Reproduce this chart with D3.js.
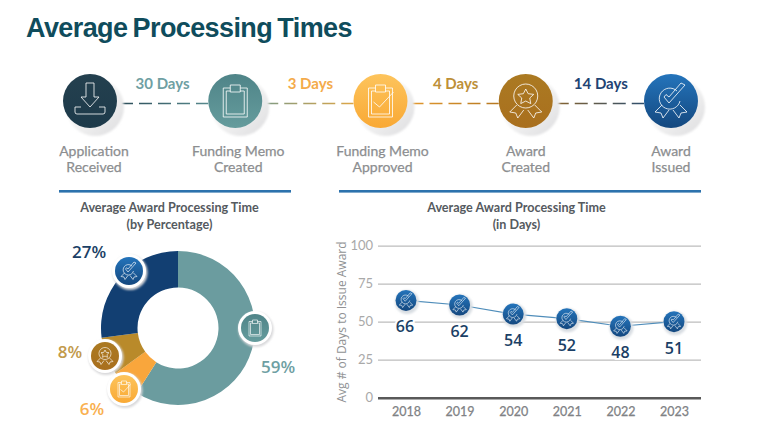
<!DOCTYPE html>
<html><head><meta charset="utf-8">
<script src="https://cdn.jsdelivr.net/npm/d3@7/dist/d3.min.js"></script>
<style>html,body{margin:0;padding:0;background:#fff}svg{display:block}text{font-family:Lato,sans-serif}</style>
</head><body><svg id="c" width="768" height="425"></svg>
<script>
const stepKeys = ["received","memo","approved","created","issued"];
const stepLabels = [["Application","Received"],["Funding Memo","Created"],["Funding Memo","Approved"],["Award","Created"],["Award","Issued"]];
const stepDays = ["30 Days","3 Days","4 Days","14 Days"];
const stepDayColors = ["#6f9fa3","#f4ab4b","#bd9038","#1f4474"];
const shareKeys = ["memo","approved","created","issued"];
const shareValues = [59,6,8,27];
const shareColors = ["#6b9c9f","#f9a63c","#b98a2a","#123f72"];
const years = ["2018","2019","2020","2021","2022","2023"];
const plottedDays = [64,61,55,52,47,50];
const labelDays = [66,62,54,52,48,51];
const yTicks = [0,25,50,75,100];

const svg = d3.select("#c");
const defs = svg.append("defs");
const grads = {
  received:["#24404f","#1d3a4a"], memo:["#4f8488","#659c9d"], approved:["#fdc45c","#f9a935"],
  created:["#ab7a22","#a96f1e"], issued:["#2474bb","#14487f"]
};
Object.entries(grads).forEach(([k,c])=>{
  const g=defs.append("linearGradient").attr("id","g-"+k).attr("x1",0).attr("y1",0).attr("x2",0).attr("y2",1);
  g.append("stop").attr("offset",0).attr("stop-color",c[0]);
  g.append("stop").attr("offset",1).attr("stop-color",c[1]);
});
const sh=defs.append("linearGradient").attr("id","shade").attr("x1",0).attr("y1",0).attr("x2",1).attr("y2",1);
sh.append("stop").attr("offset",.45).attr("stop-color","#f4f4f4");
sh.append("stop").attr("offset",1).attr("stop-color","#dcdcde");
const blur=defs.append("filter").attr("id","soft").attr("x","-30%").attr("y","-30%").attr("width","160%").attr("height","160%");
blur.append("feGaussianBlur").attr("stdDeviation",.8);

const clip="M-12,-13H-5M5,-13H12V16H-12V-13M-9,-10H-5M5,-10H9V13H-9V-10M-5,-16H5V-9H-5Z";
const ribbons="M-9,4L-16,11L-10,12L-8,17L-2,9M9,4L16,11L10,12L8,17L2,9";
const iconPaths = {
  received:"M-4,-18H4V-4H9L0,6L-9,-4H-4ZM-9,6H-15V11Q-15,13 -13,13H13Q15,13 15,11V6H9",
  memo:clip,
  approved:clip+"M-7,1L-1,6L13,-9",
  created:"M0,-17A12,12 0 1 1 -0.01,-17M0,-12L2.4,-7.3L8,-6.6L4,-3L5,2.6L0,0L-5,2.6L-4,-3L-8,-6.6L-2.4,-7.3Z"+ribbons,
  issued:"M6,-10A10.5,10.5 0 1 0 9,0M-7,-4L-2,2L14,-16L10,-18L-2,-4L-5,-6.5Z"+ribbons
};
function icon(g,key,r,scale,sw){
  g.append("circle").attr("r",r).attr("fill",`url(#g-${key})`);
  g.append("path").attr("d",iconPaths[key]).attr("transform",`scale(${scale})`)
    .attr("fill","none").attr("stroke","#fff").attr("stroke-opacity",.8).attr("stroke-width",sw/scale);
}

// Title
svg.append("text").attr("x",26).attr("y",37).text("Average Processing Times")
  .style("font-family","'Liberation Sans',sans-serif").style("font-weight",700).style("font-size","27px")
  .style("letter-spacing","-0.6px").style("word-spacing","-1.7px").attr("fill","#0f4c5c");

// Process steps
const sx=d3.scalePoint().domain(stepKeys).range([90,671]);
const stepY=101;
const labelShift={received:4,memo:3,approved:2,created:0,issued:0};
stepDays.forEach((d,i)=>{
  const a=stepKeys[i],b=stepKeys[i+1];
  const id="seg"+i;
  const lg=defs.append("linearGradient").attr("id",id).attr("gradientUnits","userSpaceOnUse")
    .attr("x1",sx(a)).attr("x2",sx(b)).attr("y1",0).attr("y2",0);
  lg.append("stop").attr("offset",0).attr("stop-color",d3.color(grads[a][1]).darker(.1));
  lg.append("stop").attr("offset",1).attr("stop-color",grads[b][1]);
  svg.append("line").attr("x1",sx(a)+27).attr("x2",sx(b)-27).attr("y1",stepY+2.5).attr("y2",stepY+2.5+.01)
    .attr("stroke",`url(#${id})`).attr("stroke-width",1.4).attr("stroke-dasharray","13 6").attr("stroke-dashoffset",-3);
  svg.append("text").attr("x",(sx(a)+sx(b))/2+(i==0?0:2.5)).attr("y",89).attr("text-anchor","middle").text(d)
    .style("font-weight",700).style("font-size","15px").attr("fill",stepDayColors[i]);
});
stepKeys.forEach((k,i)=>{
  const g=svg.append("g").attr("transform",`translate(${sx(k)},${stepY})`);
  g.append("circle").attr("cx",5).attr("cy",6).attr("r",29).attr("fill","url(#shade)").attr("filter","url(#soft)");
  icon(g,k,27,1,1);
  stepLabels[i].forEach((t,j)=>svg.append("text").attr("x",sx(k)+labelShift[k]).attr("y",156+j*16).attr("text-anchor","middle").text(t)
    .style("font-size","14px").attr("fill","#8c8e90").attr("stroke","#8c8e90").attr("stroke-width",.25));
});

// Rules
[[59,291],[339,701]].forEach(([a,b])=>svg.append("rect").attr("x",a).attr("y",190).attr("width",b-a).attr("height",2.6).attr("fill","#2d72ad"));

// Panel titles
[[[ "Average Award Processing Time","(by Percentage)"],169.5],[["Average Award Processing Time","(in Days)"],516.5]].forEach(([ls,x])=>{
  ls.forEach((t,j)=>svg.append("text").attr("x",x).attr("y",212+j*17).attr("text-anchor","middle").text(t)
   .style("font-size","12.6px").style("font-weight",700).attr("fill","#555a60"));
});

// Donut
const cx=178,cy=328;
const pie=d3.pie().sort(null)(shareValues);
const arc=d3.arc().innerRadius(40.5).outerRadius(77);
const dg=svg.append("g").attr("transform",`translate(${cx},${cy})`);
dg.selectAll("path").data(pie).join("path").attr("d",arc).attr("fill",(d,i)=>shareColors[i]);
const shareIcon={memo:[77,0],approved:[-54,61],created:[-73,28],issued:[-49,-57]};
const shareText={memo:[100,38],approved:[-86,80],created:[-108,23],issued:[-89,-77]};
const shareTextColor=["#6f9fa3","#f9b04f","#c29a4c","#1b3f66"];
shareKeys.forEach((k,i)=>{
  const [x,y]=shareIcon[k];
  const g=dg.append("g").attr("transform",`translate(${x},${y})`);
  g.append("circle").attr("cx",1).attr("cy",1.5).attr("r",17.5).attr("fill","#d8d8da").attr("filter","url(#soft)");
  g.append("circle").attr("r",17).attr("fill","#fff");
  icon(g,k,14,.5,.8);
  const [tx,ty]=shareText[k];
  dg.append("text").attr("x",tx).attr("y",ty).attr("text-anchor","middle").attr("dominant-baseline","central")
    .text(shareValues[i]+"%").style("font-family","'Open Sans',sans-serif").style("font-size","17px").style("font-weight",600).attr("fill",shareTextColor[i]);
});

// Line chart
const x=d3.scalePoint().domain(years).range([406,674]);
const y=d3.scaleLinear().domain([0,100]).range([397.7,245.7]);
const xMin=378,xMax=701;
const ya=svg.append("g").attr("transform",`translate(${xMin},0)`)
  .call(d3.axisLeft(y).tickValues(yTicks).tickSize(-(xMax-xMin)).tickPadding(5));
ya.select(".domain").remove();
ya.selectAll(".tick line").attr("stroke",d=>d===0?"#595959":"#bdbdbd").attr("stroke-width",d=>d===0?2.6:1.2);
ya.selectAll(".tick text").style("font-family","Lato,sans-serif").style("font-size","13px").attr("fill","#a9a9a9");
const xa=svg.append("g").attr("transform","translate(0,397.7)").call(d3.axisBottom(x).tickSize(0).tickPadding(9));
xa.select(".domain").remove();
xa.selectAll(".tick text").style("font-family","Lato,sans-serif").style("font-size","12.5px").attr("fill","#808285").attr("stroke","#808285").attr("stroke-width",.25);
svg.append("text").attr("transform","translate(346,322) rotate(-90)").attr("text-anchor","middle").text("Avg # of Days to Issue Award")
  .style("font-family","'Open Sans',sans-serif").style("font-size","12px").attr("fill","#909294");
svg.append("path").datum(plottedDays).attr("fill","none").attr("stroke","#4f8dba").attr("stroke-width",1.2)
  .attr("d",d3.line().x((d,i)=>x(years[i])).y(d=>y(d)));
years.forEach((yr,i)=>{
  const g=svg.append("g").attr("transform",`translate(${x(yr)},${y(plottedDays[i])})`);
  g.append("circle").attr("cx",1).attr("cy",1.5).attr("r",12).attr("fill","#d8dde2").attr("filter","url(#soft)");
  icon(g,"issued",10.5,.42,.7);
  svg.append("text").attr("x",x(yr)-(i===0?1:0)).attr("y",y(plottedDays[i])+26).attr("text-anchor","middle").attr("dominant-baseline","central")
    .text(labelDays[i]).style("font-family","'Open Sans',sans-serif").style("font-size","16px").style("font-weight",600).attr("fill","#1b3f66")
    .attr("stroke","#fff").attr("stroke-width",4).style("paint-order","stroke");
});
</script></body></html>
